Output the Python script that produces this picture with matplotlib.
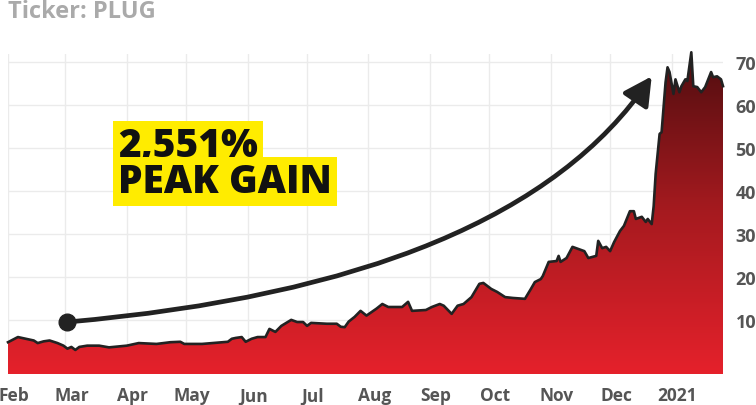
import numpy as np
import pandas as pd
import matplotlib
matplotlib.use("Agg")
import matplotlib.pyplot as plt
import matplotlib.dates as mdates
from matplotlib.colors import LinearSegmentedColormap

# PLUG closing prices (days after 2020-02-01)
start = pd.Timestamp("2020-02-01")
day_offsets = [0, 5, 9, 13, 15, 18, 21, 25, 28, 30,
               32, 34, 36, 40, 46, 51, 60, 66, 75, 82,
               87, 89, 98, 111, 113, 115, 118, 120, 123, 126,
               130, 132, 135, 138, 143, 146, 149, 151, 153, 161,
               166, 168, 170, 172, 175, 178, 181, 186, 189, 192,
               199, 202, 204, 211, 214, 218, 220, 224, 227, 230,
               234, 238, 240, 244, 247, 251, 255, 261, 264, 266,
               269, 270, 273, 277, 278, 279, 282, 285, 288, 291,
               293, 297, 298, 300, 302, 304, 306, 309, 311, 314,
               316, 317, 320, 322, 323, 325, 326, 327, 329, 330,
               332, 333, 334, 336, 337, 339, 340, 342, 343, 345,
               346, 348, 350, 352, 355, 356, 358, 360, 361]
prices = [4.8, 6.0, 5.6, 5.2, 4.6, 5.0, 5.2, 4.6, 4.0, 3.3,
          3.7, 3.0, 3.7, 4.0, 4.0, 3.6, 4.0, 4.6, 4.4, 4.8,
          4.9, 4.4, 4.4, 4.9, 5.6, 5.8, 6.0, 4.9, 5.6, 6.0,
          6.0, 7.9, 7.2, 8.6, 10.0, 9.5, 9.5, 8.6, 9.3, 9.1,
          9.1, 8.4, 8.3, 9.6, 10.7, 12.1, 11.0, 12.6, 13.7, 13.0,
          13.0, 14.2, 12.1, 12.3, 13.0, 13.7, 13.3, 11.4, 13.3, 13.7,
          15.3, 18.4, 18.6, 17.2, 16.5, 15.3, 15.1, 14.9, 17.2, 18.8,
          19.5, 20.2, 23.5, 23.7, 24.9, 23.5, 24.4, 27.0, 26.5, 26.0,
          24.4, 24.9, 28.4, 26.7, 27.0, 26.0, 28.1, 30.7, 31.9, 35.3,
          35.3, 33.5, 34.0, 32.8, 33.5, 32.3, 36.5, 44.0, 53.3, 53.7,
          65.3, 68.8, 67.7, 62.6, 66.0, 63.0, 64.4, 66.0, 65.6, 72.3,
          64.4, 64.2, 63.0, 64.2, 67.7, 66.5, 66.7, 66.0, 64.4]

y_ticks = [10, 20, 30, 40, 50, 60, 70]
month_labels = ["Feb", "Mar", "Apr", "May", "Jun", "Jul", "Aug",
                "Sep", "Oct", "Nov", "Dec", "2021"]
title = "Ticker: PLUG"
gain_lines = ["2,551%", "PEAK GAIN"]
arrow_start = ("2020-03-02", 9.5)
arrow_end = ("2020-12-22", 66.7)

x = mdates.date2num(start + pd.to_timedelta(day_offsets, unit="D"))
y0, y1 = -2.6, 71.9

fig = plt.figure(figsize=(7.56, 4.06), dpi=100)
W, H = 756, 406
ax = fig.add_axes([8 / W, 1 - 375 / H, 715 / W, 320 / H])

# gradient fill clipped to the area under the line
cmap = LinearSegmentedColormap.from_list("reds", ["#e5212b", "#a51a1f", "#4c0d0f"])
grad = np.linspace(0, 1, 256).reshape(-1, 1)
poly = ax.fill_between(x, prices, y0, color="none", lw=0)
img = ax.imshow(grad, extent=[x[0], x[-1], y0, 74], origin="lower",
                aspect="auto", cmap=cmap, zorder=2)
img.set_clip_path(poly.get_paths()[0], ax.transData)
ax.plot(x, prices, color="#222222", lw=1.9, zorder=3, clip_on=False,
        solid_joinstyle="round")

ax.set_xlim(x[0], x[-1])
ax.set_ylim(y0, y1)

month_starts = pd.date_range("2020-02-01", "2021-01-01", freq="MS")
ax.set_xticks(mdates.date2num(month_starts), minor=True)
ax.set_xticks(mdates.date2num(month_starts + pd.Timedelta(days=3)))
ax.set_xticklabels(month_labels)
ax.grid(which="minor", axis="x", color="#ebebeb", lw=1, zorder=0)
ax.set_yticks(y_ticks)
ax.grid(which="major", axis="y", color="#ebebeb", lw=1, zorder=0)
ax.set_axisbelow(True)
ax.yaxis.tick_right()
ax.tick_params(which="both", length=0)
ax.tick_params(axis="x", pad=9, labelsize=12.5, labelcolor="#555555")
ax.tick_params(axis="y", pad=9, labelsize=13, labelcolor="#555555")
for lab in ax.get_xticklabels() + ax.get_yticklabels():
    lab.set_fontfamily("Open Sans")
    lab.set_fontweight("bold")
for s in ax.spines.values():
    s.set_visible(False)

# arrow with dot at the start
sx = mdates.date2num(pd.Timestamp(arrow_start[0]))
ex = mdates.date2num(pd.Timestamp(arrow_end[0]))
ax.annotate("", xy=(ex, arrow_end[1]), xytext=(sx, arrow_start[1]),
            arrowprops=dict(arrowstyle="-|>,head_length=1.7,head_width=0.9",
                            connectionstyle="angle3,angleA=5,angleB=56",
                            lw=3.4, color="#222222", shrinkA=0, shrinkB=0,
                            mutation_scale=10),
            zorder=5, annotation_clip=False)
ax.plot(sx, arrow_start[1], "o", ms=12, color="#222222", zorder=6, clip_on=False)

fig.text(8 / W, 1 - 18 / H, title, fontsize=17, fontweight="bold",
         color="#aaaaaa", family="Open Sans", va="baseline")

for txt, base in zip(gain_lines, [157, 193]):
    fig.text(118 / W, 1 - base / H, txt, fontsize=28, fontweight="heavy",
             family="Open Sans", color="#111111", va="baseline",
             bbox=dict(boxstyle="square,pad=0.14", fc="#ffec00", ec="none"))

fig.savefig("out.png", dpi=100, facecolor="white")
